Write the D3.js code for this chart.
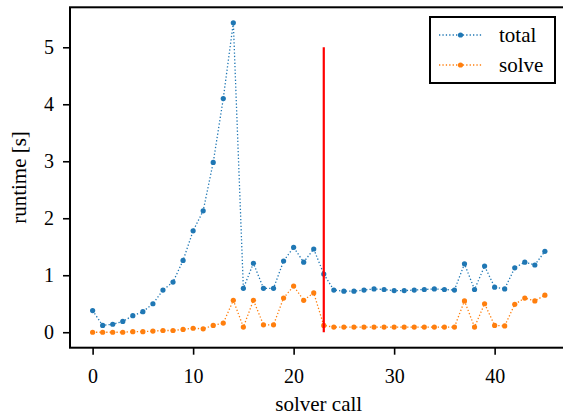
<!DOCTYPE html>
<html>
<head>
<meta charset="utf-8">
<script src="https://cdn.jsdelivr.net/npm/d3@7"></script>
<style>
  body { margin: 0; background: #fff; }
</style>
</head>
<body>
<div id="chart-area"></div>
<script>

// Data
var calls = d3.range(0, 46);

var total = [0.38, 0.12, 0.14, 0.19, 0.29, 0.36, 0.50, 0.74, 0.88, 1.26,
    1.78, 2.13, 2.98, 4.10, 5.43, 0.77, 1.21, 0.77, 0.77, 1.25,
    1.49, 1.23, 1.46, 1.02, 0.74, 0.72, 0.72, 0.74, 0.76, 0.75,
    0.73, 0.73, 0.74, 0.75, 0.76, 0.75, 0.74, 1.20, 0.75, 1.16,
    0.79, 0.76, 1.13, 1.23, 1.18, 1.42];

var solve = [0.00, 0.00, 0.00, 0.00, 0.01, 0.01, 0.02, 0.03, 0.03, 0.05,
    0.07, 0.06, 0.12, 0.16, 0.56, 0.09, 0.56, 0.13, 0.13, 0.60,
    0.81, 0.56, 0.69, 0.12, 0.09, 0.09, 0.09, 0.09, 0.09, 0.09,
    0.09, 0.09, 0.09, 0.09, 0.09, 0.09, 0.09, 0.55, 0.09, 0.50,
    0.12, 0.11, 0.49, 0.60, 0.55, 0.65];

var xTicks = [0, 10, 20, 30, 40];
var yTicks = [0, 1, 2, 3, 4, 5];

var marker = { x: 23, y0: 0, y1: 5 };

var seriesList = [
    { name: "total", values: total, color: "#1f77b4" },
    { name: "solve", values: solve, color: "#ff7f0e" }
];

var W = 563, H = 416;
var plot = { left: 70, right: 567.5, top: 7.3, bottom: 347.7 };
var serif = "'Liberation Serif', 'Times New Roman', serif";

var svg = d3.select("#chart-area").append("svg")
    .attr("width", W)
    .attr("height", H);

// Scales
var x = d3.scaleLinear().domain([-2.25, 47.25]).range([plot.left, plot.right]);
var y = d3.scaleLinear().domain([-0.2715, 5.7015]).range([plot.bottom, plot.top]);

// Axes
var xAxis = svg.append("g")
    .attr("transform", "translate(0," + plot.bottom + ")")
    .call(d3.axisBottom(x).tickValues(xTicks).tickSize(7).tickPadding(14).tickFormat(d3.format("d")));

var yAxis = svg.append("g")
    .attr("transform", "translate(" + plot.left + ",0)")
    .call(d3.axisLeft(y).tickValues(yTicks).tickSize(7).tickPadding(9).tickFormat(d3.format("d")));

[xAxis, yAxis].forEach(function(a){
    a.attr("font-family", serif).attr("font-size", 20);
    a.select(".domain").remove();
    a.selectAll(".tick line").attr("stroke", "#000").attr("stroke-width", 1.6);
    a.selectAll(".tick text").attr("fill", "#000");
});

// Lines
var line = d3.line()
    .x(function(d, i){ return x(calls[i]); })
    .y(function(d){ return y(d); });

seriesList.forEach(function(s){
    svg.append("path")
        .attr("fill", "none")
        .attr("stroke", s.color)
        .attr("stroke-width", 1.3)
        .attr("stroke-dasharray", "1.3,2.1")
        .attr("d", line(s.values));

    svg.append("g").selectAll("circle")
        .data(s.values)
        .enter().append("circle")
        .attr("cx", function(d, i){ return x(calls[i]); })
        .attr("cy", function(d){ return y(d); })
        .attr("r", 2.6)
        .attr("fill", s.color);
});

// Red vertical marker
svg.append("line")
    .attr("x1", x(marker.x)).attr("x2", x(marker.x))
    .attr("y1", y(marker.y0)).attr("y2", y(marker.y1))
    .attr("stroke", "#ff0000")
    .attr("stroke-width", 2.2);

// Frame
svg.append("rect")
    .attr("x", plot.left).attr("y", plot.top)
    .attr("width", plot.right - plot.left).attr("height", plot.bottom - plot.top)
    .attr("fill", "none")
    .attr("stroke", "#000")
    .attr("stroke-width", 2);

// Labels
svg.append("text")
    .attr("x", (plot.left + plot.right) / 2)
    .attr("y", 411)
    .attr("text-anchor", "middle")
    .attr("font-family", serif)
    .attr("font-size", 21)
    .text("solver call");

svg.append("text")
    .attr("transform", "translate(26," + ((plot.top + plot.bottom) / 2) + ") rotate(-90)")
    .attr("text-anchor", "middle")
    .attr("font-family", serif)
    .attr("font-size", 21)
    .text("runtime [s]");

// Legend
var legend = svg.append("g");
legend.append("rect")
    .attr("x", 430).attr("y", 17)
    .attr("width", 125).attr("height", 66)
    .attr("fill", "#fff")
    .attr("stroke", "#000")
    .attr("stroke-width", 2);

seriesList.forEach(function(s, i){
    var ly = 35 + i * 30;
    legend.append("line")
        .attr("x1", 439).attr("x2", 482)
        .attr("y1", ly).attr("y2", ly)
        .attr("stroke", s.color)
        .attr("stroke-width", 1.3)
        .attr("stroke-dasharray", "1.3,2.1");
    legend.append("circle")
        .attr("cx", 460.5).attr("cy", ly)
        .attr("r", 2.6)
        .attr("fill", s.color);
    legend.append("text")
        .attr("x", 499).attr("y", ly + 7)
        .attr("font-family", serif)
        .attr("font-size", 21)
        .text(s.name);
});

</script>
</body>
</html>
